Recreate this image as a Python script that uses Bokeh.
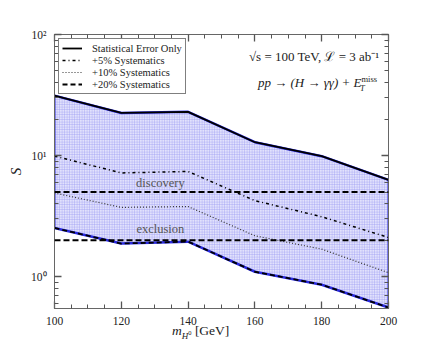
from bokeh.plotting import figure
from bokeh.models import (FixedTicker, LinearAxis, LogAxis, Label, Legend, LegendItem, Span, Div)
from bokeh.layouts import column
from bokeh.embed import file_html
from bokeh.resources import INLINE

masses = [100, 120, 140, 160, 180, 200]
stat_only = [31.3, 22.5, 23.0, 12.9, 9.9, 6.3]
sys5 = [9.9, 7.2, 7.4, 4.25, 3.13, 2.11]
sys10 = [4.92, 3.74, 3.8, 2.18, 1.69, 1.08]
sys20 = [2.53, 1.88, 1.95, 1.1, 0.86, 0.557]
discovery_level = 5
exclusion_level = 2
legend_labels = ["Statistical Error Only", "+5% Systematics", "+10% Systematics", "+20% Systematics"]
x_ticks = [100, 120, 140, 160, 180, 200]
y_ticks = [1, 10, 100]
y_tick_labels = {1: "10\u2070", 10: "10\u00b9", 100: "10\u00b2"}

FONT = "Liberation Serif"

p = figure(width=424, height=334, x_range=(100, 200), y_range=(0.547, 100),
           y_axis_type="log", output_backend="svg", toolbar_location=None,
           min_border_left=54, min_border_right=36, min_border_top=34, min_border_bottom=26)
p.grid.visible = False
p.outline_line_color = "#666666"
p.background_fill_color = "white"

# band
p.varea(x=masses, y1=sys20, y2=stat_only, fill_color="#e2e2fc", fill_alpha=1.0,
        hatch_pattern="+", hatch_color="#a0a0f2", hatch_scale=2.5, hatch_weight=0.5)
p.line([masses[0], masses[0]], [sys20[0], stat_only[0]], line_color="#2a2ae0", line_width=2)
p.line([masses[-1], masses[-1]], [sys20[-1], stat_only[-1]], line_color="#2a2ae0", line_width=2)
p.line(masses, stat_only, line_color="#2a2ae0", line_width=2.5)
p.line(masses, sys20, line_color="#2a2ae0", line_width=2.5)

r_stat = p.line(masses, stat_only, line_color="black", line_width=1.8)
r5 = p.line(masses, sys5, line_color="black", line_width=1.5, line_dash="3 3 1 3")
r10 = p.line(masses, sys10, line_color="#333333", line_width=1.2, line_dash="1 2")
r20 = p.line(masses, sys20, line_color="black", line_width=1.8, line_dash="5 3")

for lvl in (discovery_level, exclusion_level):
    p.add_layout(Span(location=lvl, dimension="width", line_color="black",
                      line_width=2, line_dash="6 3"))

p.add_layout(Label(x=131.7, y=discovery_level, text="discovery", text_align="center",
                   text_baseline="bottom", y_offset=2, text_font=FONT,
                   text_font_size="12.5px", text_color="#555555"))
p.add_layout(Label(x=131.7, y=exclusion_level, text="exclusion", text_align="center",
                   text_baseline="bottom", y_offset=4, text_font=FONT,
                   text_font_size="12.5px", text_color="#555555"))

# annotations
p.add_layout(Label(x=197.3, y=65.8, text="\u221as = 100 TeV, \u2112 = 3 ab\u207b\u00b9",
                   text_align="right", text_baseline="middle", text_font=FONT,
                   text_font_size="13px", text_color="#222222"))
p.add_layout(Label(x=191.9, y=40.1, text="pp \u2192 (H \u2192 \u03b3\u03b3) + E",
                   text_align="right", text_baseline="middle", text_font=FONT,
                   text_font_style="italic", text_font_size="13px", text_color="#222222"))
p.add_layout(Label(x=191.9, y=40.1, text="miss", y_offset=4, text_align="left",
                   text_baseline="middle", text_font=FONT, text_font_size="8.5px",
                   text_color="#222222"))
p.add_layout(Label(x=191.5, y=40.1, text="T", y_offset=-5, text_align="left",
                   text_baseline="middle", text_font=FONT, text_font_style="italic",
                   text_font_size="8.5px", text_color="#222222"))

# legend
legend = Legend(items=[LegendItem(label=legend_labels[0], renderers=[r_stat]),
                       LegendItem(label=legend_labels[1], renderers=[r5]),
                       LegendItem(label=legend_labels[2], renderers=[r10]),
                       LegendItem(label=legend_labels[3], renderers=[r20])],
                location="top_left")
legend.margin = 4
legend.padding = 3
legend.spacing = 0
legend.label_height = 12
legend.glyph_height = 12
legend.glyph_width = 20
legend.label_standoff = 10
legend.label_text_font = FONT
legend.label_text_font_size = "10.5px"
legend.label_text_color = "#222222"
legend.border_line_color = "black"
legend.border_line_width = 1
legend.background_fill_color = "white"
legend.background_fill_alpha = 1
p.add_layout(legend)

x_minor = [v for v in range(100, 201, 5) if v % 20 != 0]
y_minor = [0.6, 0.7, 0.8, 0.9] + [float(i) for i in range(2, 10)] + [float(10 * i) for i in range(2, 10)]
xt = FixedTicker(ticks=x_ticks, minor_ticks=x_minor)
yt = FixedTicker(ticks=y_ticks, minor_ticks=y_minor)

def style(ax):
    ax.axis_line_color = "#666666"
    ax.major_tick_line_color = "#555555"
    ax.minor_tick_line_color = "#555555"
    ax.major_tick_in = 7
    ax.major_tick_out = 0
    ax.minor_tick_in = 4
    ax.minor_tick_out = 0
    ax.major_tick_line_width = 1.3
    ax.major_label_text_font = FONT
    ax.major_label_text_font_size = "11.5px"
    ax.major_label_text_color = "#222222"
    ax.major_label_standoff = 8

p.xaxis.ticker = xt
p.yaxis.ticker = yt
p.yaxis.major_label_overrides = y_tick_labels
style(p.xaxis[0])
style(p.yaxis[0])
p.yaxis.axis_label = "S"
p.yaxis.axis_label_text_font = FONT
p.yaxis.axis_label_text_font_style = "italic"
p.yaxis.axis_label_text_font_size = "15px"
p.yaxis.axis_label_text_color = "#222222"
p.yaxis.axis_label_standoff = 4

top = LinearAxis(ticker=xt)
style(top)
top.major_label_overrides = {t: "" for t in x_ticks}
p.add_layout(top, "above")
right = LogAxis(ticker=yt)
style(right)
right.major_label_overrides = {t: "" for t in y_ticks}
p.add_layout(right, "right")

xlabel = Div(
    text=('<span style="font-family:\'Liberation Serif\'; font-size:13.5px; color:#222; white-space:nowrap;">'
          '<i>m</i><sub style="font-size:9px;"><i>H</i><sup style="font-size:6.5px;">0</sup></sub>'
          ' [GeV]</span>'),
    width=90, height=16, margin=(-13, 0, 0, 172))

layout = column(p, xlabel, spacing=0)
open("out.html", "w").write(file_html(layout, INLINE))
